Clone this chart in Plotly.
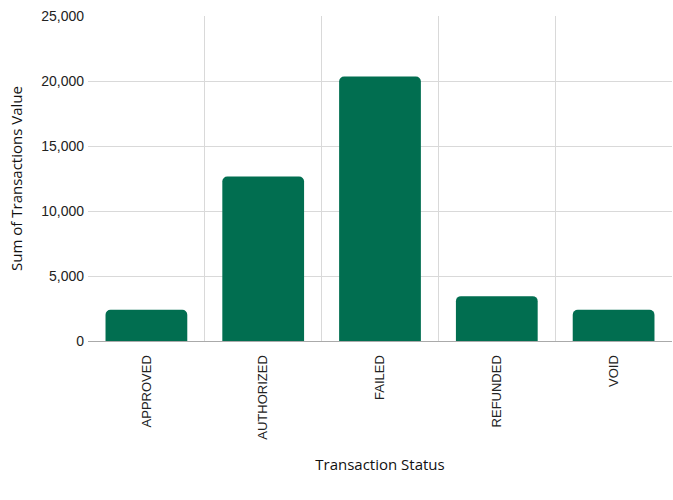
import plotly.graph_objects as go

categories = ["APPROVED", "AUTHORIZED", "FAILED", "REFUNDED", "VOID"]
values = [2400, 12650, 20350, 3450, 2400]

fig = go.Figure(go.Bar(
    x=categories, y=values,
    marker=dict(color="#016e50", line=dict(width=0)),
))

fig.update_layout(
    width=673, height=500, autosize=False,
    margin=dict(l=88, r=1, t=16, b=159),
    plot_bgcolor="white", paper_bgcolor="white",
    bargap=0.3, barcornerradius=5,
    showlegend=False,
    font=dict(family="Liberation Sans, Arial, sans-serif", size=13, color="#222"),
)
fig.update_xaxes(
    type="category", tickson="boundaries", tickangle=-90,
    showgrid=True, gridcolor="#d9d9d9", gridwidth=1,
    showline=True, linecolor="#aaaaaa", linewidth=1,
    ticks="", ticklen=0, automargin=False, ticklabelstandoff=8,
    title=dict(text="Transaction Status", font=dict(family="Open Sans, sans-serif", size=15, color="#111"), standoff=20),
)
fig.update_yaxes(
    range=[0, 25000], dtick=5000, tickformat=",",
    showgrid=True, gridcolor="#d9d9d9", gridwidth=1,
    zeroline=False, showline=False, ticks="", automargin=False,
    ticklabelstandoff=3,
    tickfont=dict(size=14),
    title=dict(text="Sum of Transactions Value", font=dict(family="Open Sans, sans-serif", size=15, color="#111"), standoff=14),
)
fig.write_html("out.html", config={"displayModeBar": False},
               post_script="document.body.style.margin='0';document.body.style.overflow='hidden';")
